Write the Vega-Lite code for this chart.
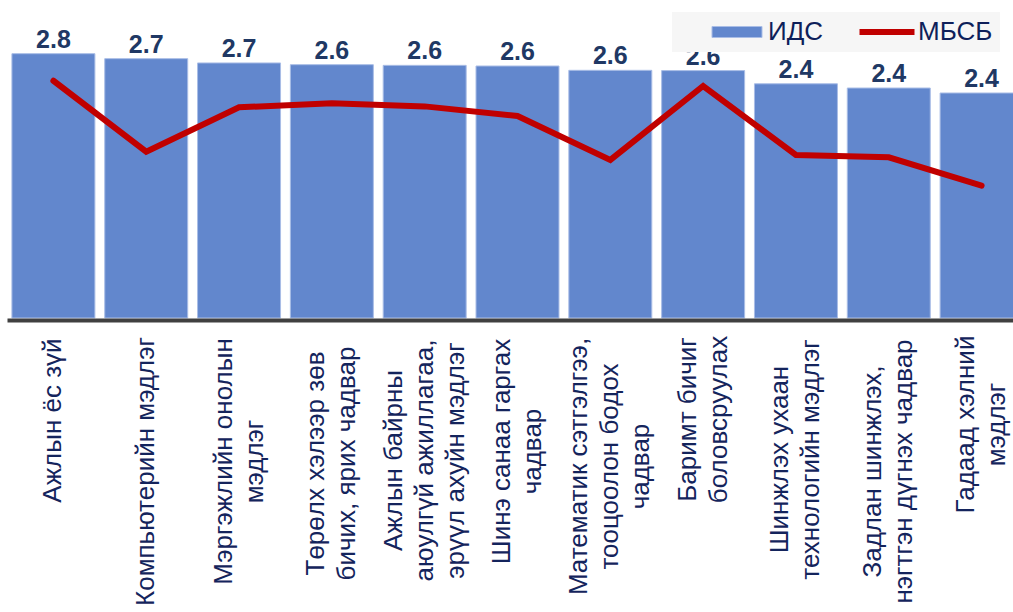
{
  "$schema": "https://vega.github.io/schema/vega-lite/v6.json",
  "width": 1006,
  "height": 287,
  "autosize": "none",
  "padding": {"left": 7, "top": 31, "right": 0, "bottom": 294},
  "background": "white",
  "config": {"view": {"stroke": null}, "font": "Liberation Sans"},
  "data": {
    "values": [
      {"skill": "Ажлын ёс зүй", "ИДС": 2.763, "МБСБ": 2.480},
      {"skill": "Компьютерийн мэдлэг", "ИДС": 2.711, "МБСБ": 1.738},
      {"skill": "Мэргэжлийн онолын\nмэдлэг", "ИДС": 2.666, "МБСБ": 2.202},
      {"skill": "Төрөлх хэлээр зөв\nбичих, ярих чадвар", "ИДС": 2.648, "МБСБ": 2.244},
      {"skill": "Ажлын байрны\nаюулгүй ажиллагаа,\nэрүүл ахуйн мэдлэг", "ИДС": 2.641, "МБСБ": 2.212},
      {"skill": "Шинэ санаа гаргах\nчадвар", "ИДС": 2.634, "МБСБ": 2.111},
      {"skill": "Математик сэтгэлгээ,\nтооцоолон бодох\nчадвар", "ИДС": 2.589, "МБСБ": 1.652},
      {"skill": "Баримт бичиг\nболовсруулах", "ИДС": 2.586, "МБСБ": 2.425},
      {"skill": "Шинжлэх ухаан\nтехнологийн мэдлэг", "ИДС": 2.448, "МБСБ": 1.704},
      {"skill": "Задлан шинжлэх,\nнэгтгэн дүгнэх чадвар", "ИДС": 2.404, "МБСБ": 1.680},
      {"skill": "Гадаад хэлний\nмэдлэг", "ИДС": 2.352, "МБСБ": 1.383}
    ]
  },
  "encoding": {
    "x": {
      "field": "skill",
      "type": "nominal",
      "sort": null,
      "title": null,
      "scale": {"range": [0, 1021], "paddingInner": 0.106, "paddingOuter": 0.053},
      "axis": {
        "labelExpr": "split(datum.label, '\\n')",
        "labelAngle": -90,
        "labelAlign": "center",
        "labelBaseline": "middle",
        "labelFont": "Liberation Sans",
        "labelFontSize": 26,
        "labelLineHeight": 31,
        "labelColor": "#14245C",
        "labelPadding": {
          "condition": [
            {"test": "datum.value === 'Ажлын ёс зүй'", "value": 100},
            {"test": "indexof(datum.value, 'Компьютер') === 0", "value": 151},
            {"test": "indexof(datum.value, 'Мэргэжлийн') === 0", "value": 141},
            {"test": "indexof(datum.value, 'Төрөлх') === 0", "value": 143},
            {"test": "indexof(datum.value, 'Ажлын байрны') === 0", "value": 140},
            {"test": "indexof(datum.value, 'Шинэ') === 0", "value": 131},
            {"test": "indexof(datum.value, 'Математик') === 0", "value": 146},
            {"test": "indexof(datum.value, 'Баримт') === 0", "value": 99},
            {"test": "indexof(datum.value, 'Шинжлэх') === 0", "value": 139},
            {"test": "indexof(datum.value, 'Задлан') === 0", "value": 151},
            {"test": "indexof(datum.value, 'Гадаад') === 0", "value": 104}
          ],
          "value": 17
        },
        "labelLimit": 0,
        "labelOverlap": false,
        "labelOffset": {
          "condition": [
            {"test": "length(split(datum.label, '\\n')) == 3", "value": -31},
            {"test": "length(split(datum.label, '\\n')) == 2", "value": -15.5}
          ],
          "value": 0
        },
        "ticks": false,
        "domainColor": "#404040",
        "domainWidth": 4,
        "offset": 2,
        "zindex": 1
      }
    }
  },
  "layer": [
    {
      "mark": {"type": "bar", "stroke": "#A9BDE6", "strokeWidth": 1},
      "encoding": {
        "y": {"field": "ИДС", "type": "quantitative", "scale": {"domain": [0, 3]}, "axis": null},
        "fill": {
          "datum": "ИДС",
          "scale": {"domain": ["ИДС"], "range": ["#6287CD"]},
          "legend": {
            "orient": "none",
            "legendX": 665,
            "legendY": -19,
            "direction": "horizontal",
            "title": null,
            "fillColor": "#F6F6F6",
            "padding": 7,
            "symbolOffset": 45,
            "symbolType": "M-5,-1.1H5V1.1H-5Z",
            "symbolSize": 100,
            "symbolStrokeColor": "#A9BDE6",
            "symbolStrokeWidth": 1,
            "symbolOpacity": 1,
            "labelOffset": 18,
            "labelFont": "Liberation Sans",
            "labelFontSize": 26,
            "labelColor": "#0E1F5A"
          }
        }
      }
    },
    {
      "mark": {"type": "text", "fontWeight": "bold", "fontSize": 25, "color": "#203864", "baseline": "alphabetic", "dy": -6, "font": "Liberation Sans"},
      "encoding": {
        "y": {"field": "ИДС", "type": "quantitative"},
        "text": {"field": "ИДС", "type": "quantitative", "format": ".1f"}
      }
    },
    {
      "mark": {"type": "line", "strokeWidth": 6, "strokeCap": "round", "strokeJoin": "miter"},
      "encoding": {
        "y": {"field": "МБСБ", "type": "quantitative"},
        "stroke": {
          "datum": "МБСБ",
          "scale": {"domain": ["МБСБ"], "range": ["#C00000"]},
          "legend": {
            "orient": "none",
            "legendX": 823,
            "legendY": -19,
            "direction": "horizontal",
            "title": null,
            "fillColor": "#F6F6F6",
            "padding": 7,
            "symbolOffset": 37,
            "symbolType": "M-5.5,0H5.5",
            "symbolSize": 100,
            "symbolStrokeWidth": 6,
            "labelOffset": 18,
            "labelFont": "Liberation Sans",
            "labelFontSize": 26,
            "labelColor": "#0E1F5A"
          }
        }
      }
    }
  ]
}
